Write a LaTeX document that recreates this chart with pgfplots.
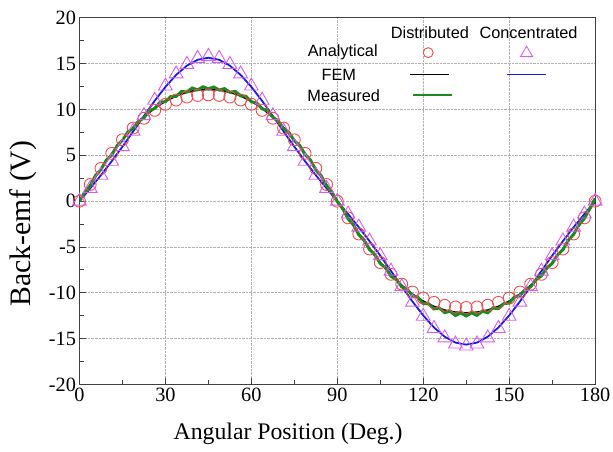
\documentclass[border=0pt]{standalone}
\usepackage{pgfplots}
\usepackage{pgfplotstable}
\usepackage{fontspec}
\setmainfont{Liberation Serif}
\setsansfont{Liberation Sans}
\pgfplotsset{compat=1.18}
\definecolor{cred}{RGB}{228,80,80}
\definecolor{cvio}{RGB}{212,95,232}
\definecolor{cblue}{RGB}{25,25,225}
\definecolor{cgreen}{RGB}{30,135,30}

\pgfplotstableread{
th D C F B
0 0 0 0 0
3.75 1.82 1.40 1.80 1.40
7.5 3.58 2.83 3.54 2.84
11.25 5.22 4.35 5.19 4.36
15 6.70 5.95 6.70 5.95
18.75 7.98 7.63 8.04 7.61
22.5 9.05 9.33 9.19 9.30
26.25 9.91 11.01 10.15 10.95
30 10.57 12.56 10.91 12.47
33.75 11.04 13.89 11.49 13.78
37.5 11.36 14.92 11.89 14.79
41.25 11.54 15.58 12.12 15.43
45 11.60 15.80 12.20 15.65
48.75 11.54 15.58 12.12 15.43
52.5 11.36 14.92 11.89 14.79
56.25 11.04 13.89 11.49 13.78
60 10.57 12.56 10.91 12.47
63.75 9.91 11.01 10.15 10.95
67.5 9.05 9.33 9.19 9.30
71.25 7.98 7.63 8.04 7.61
75 6.70 5.95 6.70 5.95
78.75 5.22 4.35 5.19 4.36
82.5 3.58 2.83 3.54 2.84
86.25 1.82 1.40 1.80 1.40
90 0 0 0 0
93.75 -1.82 -1.40 -1.80 -1.40
97.5 -3.58 -2.83 -3.54 -2.84
101.25 -5.22 -4.35 -5.19 -4.36
105 -6.70 -5.95 -6.70 -5.95
108.75 -7.98 -7.63 -8.04 -7.61
112.5 -9.05 -9.33 -9.19 -9.30
116.25 -9.91 -11.01 -10.15 -10.95
120 -10.57 -12.56 -10.91 -12.47
123.75 -11.04 -13.89 -11.49 -13.78
127.5 -11.36 -14.92 -11.89 -14.79
131.25 -11.54 -15.58 -12.12 -15.43
135 -11.60 -15.80 -12.20 -15.65
138.75 -11.54 -15.58 -12.12 -15.43
142.5 -11.36 -14.92 -11.89 -14.79
146.25 -11.04 -13.89 -11.49 -13.78
150 -10.57 -12.56 -10.91 -12.47
153.75 -9.91 -11.01 -10.15 -10.95
157.5 -9.05 -9.33 -9.19 -9.30
161.25 -7.98 -7.63 -8.04 -7.61
165 -6.70 -5.95 -6.70 -5.95
168.75 -5.22 -4.35 -5.19 -4.36
172.5 -3.58 -2.83 -3.54 -2.84
176.25 -1.82 -1.40 -1.80 -1.40
180 0 0 0 0
}\mainT

\pgfplotstableread{
th M
0 0.00
1.875 1.02
3.75 1.69
5.625 2.82
7.5 3.45
9.375 4.47
11.25 5.04
13.125 6.05
15 6.64
16.875 7.56
18.75 7.93
20.625 8.74
22.5 9.08
24.375 9.87
26.25 10.12
28.125 10.80
30 10.87
31.875 11.42
33.75 11.44
35.625 11.97
37.5 11.92
39.375 12.35
41.25 12.15
43.125 12.48
45 12.26
46.875 12.46
48.75 12.13
50.625 12.28
52.5 11.89
54.375 11.98
56.25 11.50
58.125 11.44
60 10.85
61.875 10.72
63.75 10.09
65.625 9.88
67.5 9.15
69.375 8.77
71.25 7.92
73.125 7.50
75 6.58
76.875 6.09
78.75 5.09
80.625 4.49
82.5 3.42
84.375 2.77
86.25 1.67
88.125 0.99
90 -0.05
91.875 -0.79
93.75 -1.92
95.625 -2.57
97.5 -3.67
99.375 -4.25
101.25 -5.28
103.125 -5.82
105 -6.81
106.875 -7.27
108.75 -8.20
110.625 -8.56
112.5 -9.36
114.375 -9.58
116.25 -10.33
118.125 -10.49
120 -11.17
121.875 -11.20
123.75 -11.75
125.625 -11.66
127.5 -12.16
129.375 -12.01
131.25 -12.47
133.125 -12.19
135 -12.53
136.875 -12.18
138.75 -12.46
140.625 -12.01
142.5 -12.17
144.375 -11.65
146.25 -11.73
148.125 -11.17
150 -11.12
151.875 -10.43
153.75 -10.31
155.625 -9.61
157.5 -9.35
159.375 -8.56
161.25 -8.16
163.125 -7.28
165 -6.80
166.875 -5.85
168.75 -5.30
170.625 -4.27
172.5 -3.62
174.375 -2.56
176.25 -1.89
178.125 -0.82
180 0.30
}\measT

\begin{document}
\begin{tikzpicture}
\begin{axis}[
  at={(0,0)}, anchor=south west,
  scale only axis, width=519bp, height=369bp,
  xmin=0, xmax=180, ymin=-20, ymax=20,
  xtick={0,30,...,180}, ytick={-20,-15,...,20},
  minor x tick num=1, minor y tick num=1,
  xtick pos=left, ytick pos=left,
  tick align=inside,
  major tick length=7bp, minor tick length=5bp,
  grid=major,
  major grid style={densely dotted, gray!60, line width=0.9pt},
  axis line style={line width=1.1pt, black!75},
  every tick/.style={black!75, line width=0.9pt},
  ticklabel style={font=\fontsize{20.5}{25}\selectfont},
  /pgf/number format/assume math mode=true,
  clip=true,
]
\addplot[black, line width=1.8pt] table[x=th, y=F] {\mainT};
\addplot[cblue, line width=1.8pt] table[x=th, y=B] {\mainT};
\addplot[only marks, mark=o, mark size=6bp, cred, mark options={line width=0.9pt}] table[x=th, y=D] {\mainT};
\addplot[only marks, mark=triangle, mark size=8bp, cvio, mark options={line width=0.9pt}] table[x=th, y=C] {\mainT};
\addplot[cgreen, line width=3pt] table[x=th, y=M] {\measT};
\end{axis}
% axis labels
\node[font=\fontsize{24}{28}\selectfont] at (210bp,-50bp) {Angular Position (Deg.)};
\node[rotate=90, font=\fontsize{30}{34}\selectfont] at (-57bp,162bp) {Back-emf (V)};
% legend
\begin{scope}[font=\sffamily\fontsize{16.5}{19}\selectfont]
\node at (352.7bp,354bp) {Distributed};
\node at (452bp,354bp) {Concentrated};
\node at (265bp,334bp) {Analytical};
\node at (261bp,312bp) {FEM};
\node at (266bp,291bp) {Measured};
\draw[cred, line width=0.9pt] (351bp,334bp) circle (5bp);
\draw[cvio, line width=0.9pt] (450bp,340.5bp) -- (443.9bp,330bp) -- (456.1bp,330bp) -- cycle;
\draw[black, line width=1.8pt] (333bp,312bp) -- (372bp,312bp);
\draw[cblue, line width=1.8pt] (430bp,312bp) -- (470bp,312bp);
\draw[cgreen, line width=1.8pt] (336bp,291bp) -- (375bp,291bp);
\end{scope}
\pgfresetboundingbox
\path (-80bp,-67bp) rectangle (537bp,387bp);
\end{tikzpicture}
\end{document}
